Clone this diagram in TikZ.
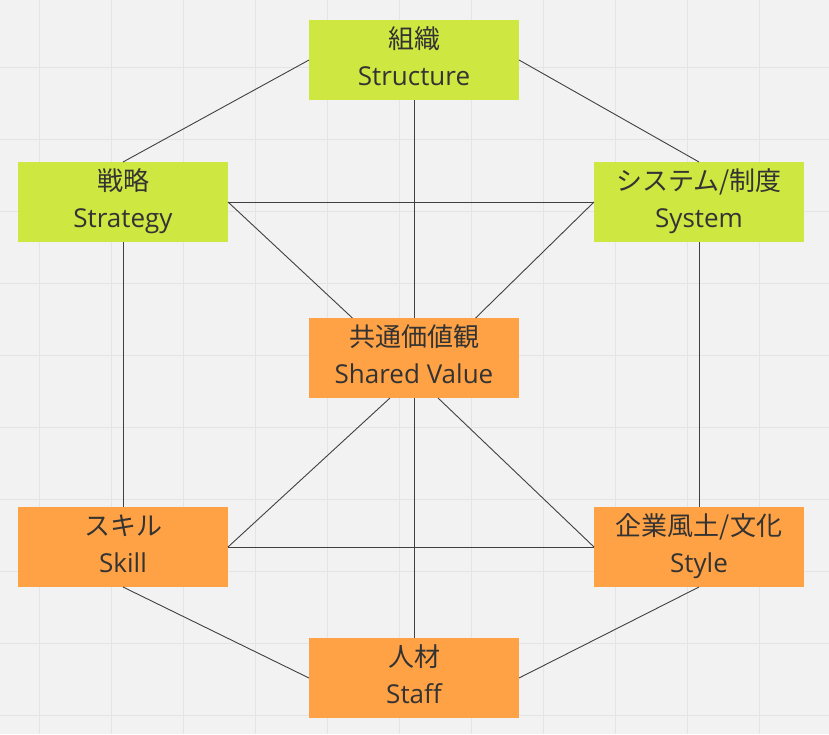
\documentclass[tikz,border=0pt]{standalone}
\usepackage{fontspec}
\setmainfont{Open Sans}
\newfontfamily\jp{Noto Sans CJK JP}
\usepackage{tikz}
\usetikzlibrary{positioning}

\definecolor{boxgreen}{HTML}{CEE741}
\definecolor{boxorange}{HTML}{FFA245}
\definecolor{bggray}{HTML}{F2F2F2}
\definecolor{gridgray}{HTML}{E4E4E4}
\definecolor{linegray}{HTML}{404040}
\definecolor{textgray}{HTML}{333333}

\tikzset{
  elem/.style={rectangle, minimum width=210pt, minimum height=80pt,
               inner sep=0pt, outer sep=0pt, align=center, text=textgray,
               text height=56pt, text depth=6pt,
               font=\fontsize{26}{37}\selectfont},
  hard/.style={elem, fill=boxgreen},
  soft/.style={elem, fill=boxorange},
  gridline/.style={draw=gridgray, line width=1pt}
}

\begin{document}
\begin{tikzpicture}[x=1pt,y=-1pt,
                    every edge/.style={draw=linegray, line width=0.9pt}]

        \useasboundingbox (0,0) rectangle (829,734);
        \fill[bggray] (0,0) rectangle (829,734);
        \foreach \gx in {39,111,...,831}
            \draw[gridline] (\gx,0) -- (\gx,734);
        \foreach \gy in {-5,67,...,715}
            \draw[gridline] (0,\gy) -- (829,\gy);

        \node[hard]     (structure) at (414,60)                        {{\jp 組織}\\Structure};
        \node[hard]     (strategy)  [below left=62pt and 81pt of structure]  {{\jp 戦略}\\Strategy};
        \node[hard]     (system)    [below right=62pt and 75pt of structure] {{\jp システム/制度}\\System};
        \node[soft]     (shared)    [below=218pt of structure]         {{\jp 共通価値観}\\Shared Value};
        \node[soft]     (skill)     [below=265pt of strategy]          {{\jp スキル}\\Skill};
        \node[soft]     (style)     [below=265pt of system]            {{\jp 企業風土/文化}\\Style};
        \node[soft]     (staff)     [below=240pt of shared]            {{\jp 人材}\\Staff};

        \path   (structure.west)  edge (strategy.north)
                (structure.east)  edge (system.north)
                (structure.south) edge (shared.north)
                (strategy.east)   edge (system.west)
                                  edge (shared.147)
                (system.west)     edge (shared.33)
                (strategy.south)  edge (skill.north)
                (system.south)    edge (style.north)
                (shared.239)      edge (skill.east)
                (shared.301)      edge (style.west)
                (shared.south)    edge (staff.north)
                (skill.east)      edge (style.west)
                (skill.south)     edge (staff.west)
                (style.south)     edge (staff.east);

        \end{tikzpicture}
\end{document}
